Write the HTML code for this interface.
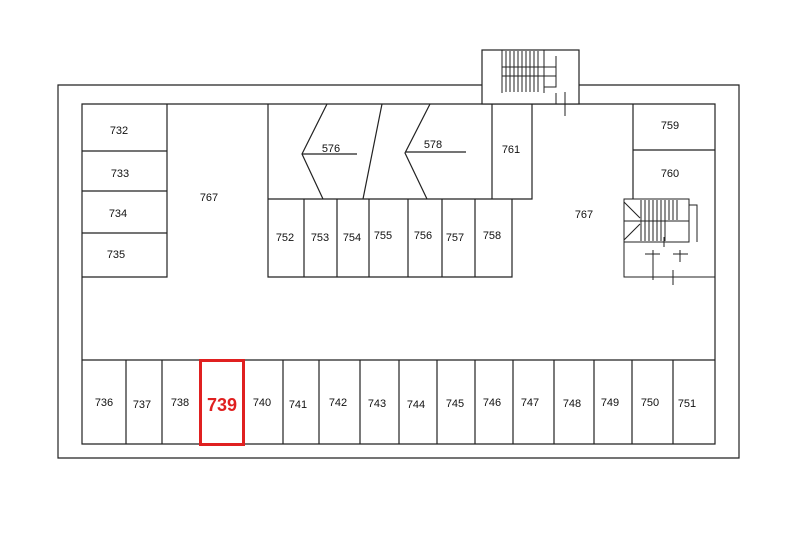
<!DOCTYPE html>
<html><head><style>html,body{margin:0;padding:0;background:#fff;}svg{display:block}</style></head>
<body>
<svg width="800" height="533" viewBox="0 0 800 533" xmlns="http://www.w3.org/2000/svg" font-family="Liberation Sans, Arial, sans-serif" font-size="11" fill="none" stroke="#222" stroke-width="1.2">
<!-- outer wall -->
<path d="M482 85 H58 V458 H739 V85 H579"/>
<!-- inner -->
<path d="M82 104 H715 V444 H82 Z"/>
<!-- top stair -->
<rect x="482" y="50" width="97" height="54" fill="#fff"/>
<g stroke-width="1">
<path d="M502 50 V93 M544 50 V93 M502 67 H556 M502 76 H556 M556 56 V87 H544"/>
<path d="M506 51 V92 M510 51 V92 M514 51 V92 M518 51 V92 M522 51 V92 M526 51 V92 M530 51 V92 M534 51 V92 M538 51 V92"/>
<path d="M556 93 V104 M565 92 V116"/>
</g>
<!-- left column -->
<path d="M167 104 V277 H82 M82 151 H167 M82 191 H167 M82 233 H167"/>
<!-- middle block -->
<path d="M268 104 V277 H512 V199 H268 M512 199 H532 V104 M492 104 V199"/>
<path d="M304 199 V277 M337 199 V277 M369 199 V277 M408 199 V277 M442 199 V277 M475 199 V277"/>
<path d="M327 104 L302 154 L323 199 M302 154 H357 M382 104 L363 199 M430 104 L405 153 L427 199 M405 152 H466"/>
<!-- right rooms -->
<path d="M633 104 V199 M633 150 H715"/>
<!-- right stair -->
<g stroke-width="1">
<path d="M624 199 H689 V242 H624 Z M689 205 H697 V242 M624 242 V277 H715 M624 202 L640 218 M624 240 L640 224 M624 221 H689"/>
<path d="M641 200 V241 M645 200 V241 M649 200 V241 M653 200 V241 M657 200 V241 M661 200 V241 M665 200 V241 M669 200 V220 M673 200 V220 M677 200 V220"/>
<path d="M664 237 V247 M645 254 H660 M653 250 V280 M673 254 H688 M680 250 V262 M673 270 V285"/>
</g>
<!-- bottom row -->
<path d="M82 360 H715"/>
<path d="M126 360 V444 M162 360 V444 M283 360 V444 M319 360 V444 M360 360 V444 M399 360 V444 M437 360 V444 M475 360 V444 M513 360 V444 M554 360 V444 M594 360 V444 M632 360 V444 M673 360 V444"/>
<rect x="200.5" y="360.5" width="43" height="84" stroke="#e02020" stroke-width="3"/>
<g fill="#111" stroke="none" text-anchor="middle">
<text x="119" y="134">732</text><text x="120" y="177">733</text><text x="118" y="217">734</text><text x="116" y="258">735</text>
<text x="209" y="201">767</text><text x="584" y="218">767</text>
<text x="331" y="152">576</text><text x="433" y="148">578</text><text x="511" y="153">761</text>
<text x="670" y="129">759</text><text x="670" y="177">760</text>
<text x="285" y="241">752</text><text x="320" y="241">753</text><text x="352" y="241">754</text><text x="383" y="239">755</text><text x="423" y="239">756</text><text x="455" y="241">757</text><text x="492" y="239">758</text>
<text x="104" y="406">736</text><text x="142" y="408">737</text><text x="180" y="406">738</text>
<text x="262" y="406">740</text><text x="298" y="408">741</text><text x="338" y="406">742</text><text x="377" y="407">743</text><text x="416" y="408">744</text><text x="455" y="407">745</text><text x="492" y="406">746</text><text x="530" y="406">747</text><text x="572" y="407">748</text><text x="610" y="406">749</text><text x="650" y="406">750</text><text x="687" y="407">751</text>
<text x="222" y="411" fill="#e02020" font-size="18" font-weight="bold">739</text>
</g>
</svg>
</body></html>
